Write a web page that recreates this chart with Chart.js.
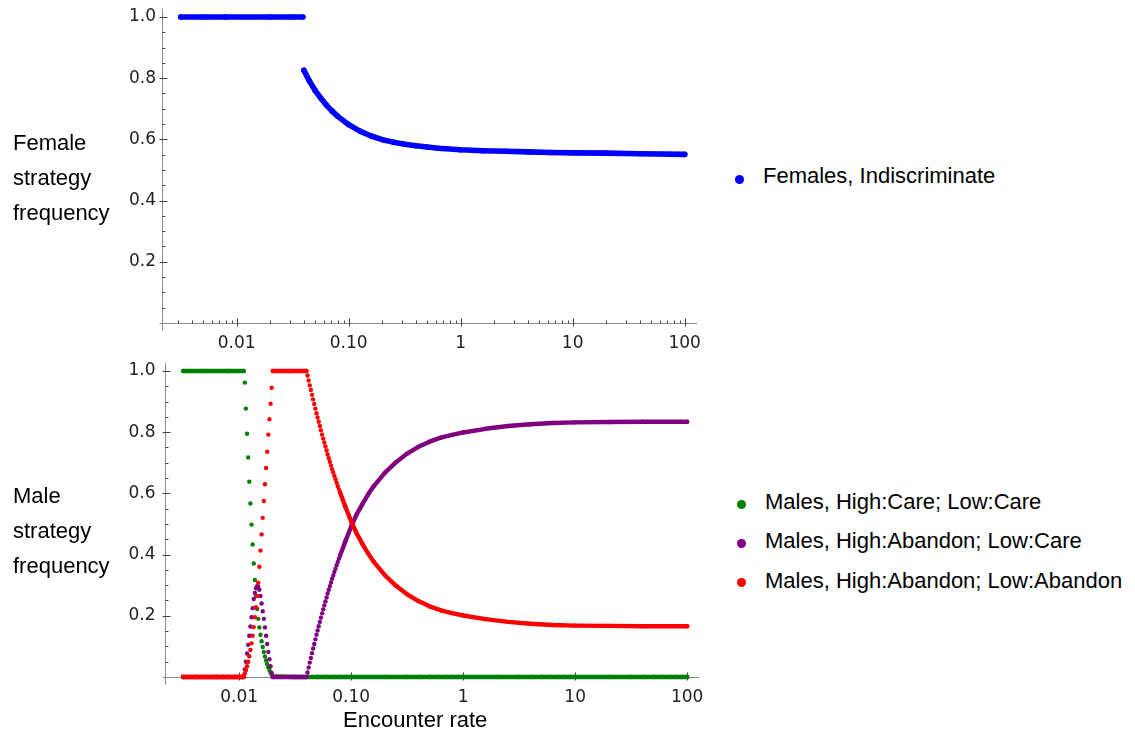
<!DOCTYPE html>
<html>
<head>
<meta charset="utf-8">
<script src="https://cdn.jsdelivr.net/npm/chart.js@4.4.1/dist/chart.umd.min.js"></script>
<style>
    body { margin: 0; background: #fff; }
    #page { position: relative; width: 1135px; height: 733px; overflow: hidden; font-family: 'Liberation Sans', Arial, sans-serif; font-size: 22px; color: #000; }
    canvas { position: absolute; left: 0; }
    .txt { position: absolute; white-space: nowrap; }
    .side { line-height: 35px; }
    .leg { line-height: 30px; }
    .dot { position: absolute; width: 9px; height: 9px; border-radius: 50%; }
</style>
</head>
<body>
<div id="page">
    <canvas id="female-chart" width="720" height="360" style="top:0"></canvas>
    <canvas id="male-chart" width="720" height="383" style="top:350px"></canvas>

    <div class="txt side" style="left:13px; top:125px">Female<br>strategy<br>frequency</div>
    <div class="txt side" style="left:13px; top:478px">Male<br>strategy<br>frequency</div>
    <div class="txt leg" style="left:343px; top:705px">Encounter rate</div>

    <div class="dot" style="left:735px; top:175px; background:#0000ff"></div>
    <div class="txt leg" style="left:763px; top:161px">Females, Indiscriminate</div>

    <div class="dot" style="left:737px; top:500px; background:#008000"></div>
    <div class="txt leg" style="left:765px; top:487px">Males, High:Care; Low:Care</div>
    <div class="dot" style="left:737px; top:539px; background:#800080"></div>
    <div class="txt leg" style="left:765px; top:526px">Males, High:Abandon; Low:Care</div>
    <div class="dot" style="left:737px; top:578px; background:#ff0000"></div>
    <div class="txt leg" style="left:765px; top:566px">Males, High:Abandon; Low:Abandon</div>
</div>

<script>
// encounter rates are stored as log10 exponents
const femaleLogRate = [-2.5, -2.3, -2.1, -1.9, -1.7, -1.5, -1.41,
    -1.40, -1.35, -1.30, -1.25, -1.20, -1.15, -1.10, -1.00, -0.90, -0.80, -0.70, -0.60, -0.50,
    -0.40, -0.30, -0.20, 0.00, 0.20, 0.40, 0.60, 0.80, 1.00, 1.30, 1.60, 2.00];
const femaleIndiscriminate = [1, 1, 1, 1, 1, 1, 1,
    0.826, 0.790, 0.760, 0.735, 0.712, 0.693, 0.676, 0.648, 0.627, 0.611, 0.599, 0.591, 0.584,
    0.579, 0.575, 0.571, 0.566, 0.563, 0.561, 0.559, 0.557, 0.556, 0.555, 0.553, 0.551];

const careCareLogRate = [-2.5, -2.3, -2.1, -1.96,
    -1.95, -1.94, -1.93, -1.92, -1.91, -1.90, -1.89, -1.88, -1.87, -1.86,
    -1.85, -1.84, -1.83, -1.82, -1.81, -1.80, -1.79, -1.78, -1.77, -1.76,
    -1.75, -1.74, -1.73, -1.72, -1.71, -1.70,
    -1.5, -1.0, -0.5, 0, 0.5, 1.0, 1.5, 2.0];
const careCare = [1, 1, 1, 1,
    0.962, 0.877, 0.795, 0.717, 0.638, 0.567, 0.498, 0.433, 0.371, 0.317,
    0.265, 0.222, 0.190, 0.162, 0.138, 0.117, 0.098, 0.082, 0.067, 0.054,
    0.042, 0.032, 0.023, 0.015, 0.008, 0.002,
    0, 0, 0, 0, 0, 0, 0, 0];

const abandonCareLogRate = [-2.5, -2.2, -1.96,
    -1.95, -1.94, -1.93, -1.92, -1.91, -1.90, -1.89, -1.88, -1.87, -1.86,
    -1.85, -1.84, -1.83, -1.82, -1.81, -1.80, -1.79, -1.78, -1.77, -1.76,
    -1.75, -1.74, -1.73, -1.72, -1.71, -1.70, -1.55, -1.40,
    -1.39, -1.38, -1.37, -1.36, -1.35, -1.34, -1.33, -1.32, -1.31, -1.30,
    -1.29, -1.28, -1.27, -1.26, -1.25, -1.24, -1.23, -1.22, -1.21, -1.20,
    -1.19, -1.18, -1.17, -1.16, -1.15, -1.14, -1.13, -1.12, -1.11, -1.10,
    -1.05, -1.00, -0.95, -0.90, -0.85, -0.80, -0.70, -0.60, -0.50, -0.40,
    -0.30, -0.20, -0.10, 0.00, 0.20, 0.40, 0.60, 0.80, 1.00, 1.30, 1.60, 2.00];
const abandonCare = [0, 0, 0,
    0.025, 0.050, 0.077, 0.105, 0.135, 0.165, 0.195, 0.225, 0.255, 0.275,
    0.290, 0.297, 0.295, 0.285, 0.265, 0.240, 0.215, 0.190, 0.162, 0.135,
    0.108, 0.082, 0.058, 0.035, 0.013, 0, 0, 0,
    0.015, 0.031, 0.047, 0.062, 0.078, 0.093, 0.108, 0.123, 0.138, 0.152,
    0.166, 0.180, 0.194, 0.208, 0.221, 0.234, 0.247, 0.260, 0.273, 0.285,
    0.297, 0.309, 0.321, 0.332, 0.343, 0.354, 0.365, 0.376, 0.386, 0.396,
    0.445, 0.492, 0.532, 0.565, 0.596, 0.623, 0.667, 0.702, 0.730, 0.752,
    0.769, 0.782, 0.791, 0.799, 0.811, 0.820, 0.826, 0.830, 0.832, 0.833, 0.834, 0.834];

const abandonAbandonLogRate = [-2.5, -2.2, -1.97,
    -1.96, -1.95, -1.94, -1.93, -1.92, -1.91, -1.90, -1.89, -1.88, -1.87,
    -1.86, -1.85, -1.84, -1.83, -1.82, -1.81, -1.80, -1.79, -1.78, -1.77,
    -1.76, -1.75, -1.74, -1.73, -1.72, -1.71,
    -1.70, -1.55, -1.40,
    -1.39, -1.38, -1.37, -1.36, -1.35, -1.34, -1.33, -1.32, -1.31, -1.30,
    -1.29, -1.28, -1.27, -1.26, -1.25, -1.24, -1.23, -1.22, -1.21, -1.20,
    -1.19, -1.18, -1.17, -1.16, -1.15, -1.14, -1.13, -1.12, -1.11, -1.10,
    -1.05, -1.00, -0.95, -0.90, -0.85, -0.80, -0.70, -0.60, -0.50, -0.40,
    -0.30, -0.20, -0.10, 0.00, 0.20, 0.40, 0.60, 0.80, 1.00, 1.30, 1.60, 2.00];
const abandonAbandon = [0, 0, 0,
    0.004, 0.012, 0.022, 0.035, 0.050, 0.068, 0.088, 0.110, 0.135, 0.163,
    0.195, 0.228, 0.265, 0.308, 0.360, 0.413, 0.466, 0.520, 0.575, 0.630,
    0.683, 0.736, 0.792, 0.842, 0.893, 0.945,
    1, 1, 1,
    0.985, 0.969, 0.953, 0.938, 0.922, 0.907, 0.892, 0.877, 0.862, 0.848,
    0.834, 0.820, 0.806, 0.792, 0.779, 0.766, 0.753, 0.740, 0.727, 0.715,
    0.703, 0.691, 0.679, 0.668, 0.657, 0.646, 0.635, 0.624, 0.614, 0.604,
    0.555, 0.508, 0.468, 0.435, 0.404, 0.377, 0.333, 0.298, 0.270, 0.248,
    0.231, 0.218, 0.209, 0.201, 0.189, 0.180, 0.174, 0.170, 0.168, 0.167, 0.166, 0.166];

const xTickValues = [0.01, 0.1, 1, 10, 100];
const xTickLabels = ['0.01', '0.10', '1', '10', '100'];
const minorMultipliers = [2, 3, 4, 5, 6, 7, 8, 9];
const yTickValues = [0.2, 0.4, 0.6, 0.8, 1.0];
const yTickLabels = ['0.2', '0.4', '0.6', '0.8', '1.0'];
const yMinorStep = 0.05;

const X_MIN = Math.pow(10, -2.667);
const X_MAX = Math.pow(10, 2.11);
const Y_MAX = 1.026;

function toPoints(logRates, values) {
    return logRates.map((e, i) => ({ x: Math.pow(10, e), y: values[i] }));
}

function xMinorTicks() {
    const out = [];
    for (let d = 0.001; d < 100; d *= 10) {
        minorMultipliers.forEach(m => {
            const v = +(m * d).toPrecision(3);
            if (v > X_MIN && v < X_MAX) out.push(v);
        });
    }
    return out;
}

// axes drawn the Mathematica way: crossing at the origin, ticks straddling the line
const frameAxes = {
    id: 'frameAxes',
    beforeDatasetsDraw(chart) {
        const { ctx, chartArea: a, scales: { x, y } } = chart;
        const y0 = Math.round(y.getPixelForValue(0)) + 0.5;
        const x0 = Math.round(a.left) + 0.5;
        ctx.save();
        ctx.lineWidth = 1;
        ctx.strokeStyle = '#8a8a8a';
        ctx.beginPath();
        ctx.moveTo(x0 - 3, y0);
        ctx.lineTo(a.right, y0);
        ctx.moveTo(x0, a.top);
        ctx.lineTo(x0, y0 + 7);
        ctx.stroke();

        ctx.strokeStyle = '#444';
        ctx.beginPath();
        xTickValues.forEach(v => {
            const px = Math.round(x.getPixelForValue(v)) + 0.5;
            ctx.moveTo(px, y0 - 5);
            ctx.lineTo(px, y0 + 3);
        });
        xMinorTicks().forEach(v => {
            const px = Math.round(x.getPixelForValue(v)) + 0.5;
            ctx.moveTo(px, y0 - 3);
            ctx.lineTo(px, y0);
        });
        yTickValues.forEach(v => {
            const py = Math.round(y.getPixelForValue(v)) + 0.5;
            ctx.moveTo(x0 - 3, py);
            ctx.lineTo(x0 + 5, py);
        });
        for (let i = 1; i * yMinorStep < Y_MAX; i++) {
            if (i % 4 === 0) continue;
            const py = Math.round(y.getPixelForValue(i * yMinorStep)) + 0.5;
            ctx.moveTo(x0, py);
            ctx.lineTo(x0 + 3, py);
        }
        ctx.stroke();
        ctx.restore();
    }
};

function pointSeries(label, logRates, values, color, radius, order) {
    return {
        label: label,
        data: toPoints(logRates, values),
        showLine: true,
        order: order,
        clip: false,
        borderColor: color,
        borderWidth: radius * 2,
        borderCapStyle: 'round',
        borderJoinStyle: 'round',
        pointRadius: radius,
        pointBorderWidth: 0,
        pointBackgroundColor: color,
        pointHoverRadius: radius,
        tension: 0,
        // neighbouring samples stay as separate dots, wider steps are joined
        segment: {
            borderColor: c => (c.p1.x - c.p0.x > 1.6 ? color : 'rgba(0,0,0,0)'),
        },
    };
}

function panelOptions(pad, labelPad) {
    const tickFont = { family: 'DejaVu Sans', size: 17 };
    return {
        responsive: false,
        animation: false,
        events: [],
        layout: { padding: pad },
        plugins: { legend: { display: false }, tooltip: { enabled: false } },
        scales: {
            x: {
                type: 'logarithmic',
                min: X_MIN,
                max: X_MAX,
                grid: { display: false, drawTicks: false },
                border: { display: false },
                afterBuildTicks: s => { s.ticks = xTickValues.map(v => ({ value: v })); },
                afterFit: s => { s.height = 30; },
                ticks: {
                    autoSkip: false,
                    maxRotation: 0,
                    padding: 10,
                    color: '#222',
                    font: tickFont,
                    callback: (v, i) => xTickLabels[i],
                },
            },
            y: {
                min: 0,
                max: Y_MAX,
                grid: { display: false, drawTicks: false },
                border: { display: false },
                afterBuildTicks: s => { s.ticks = yTickValues.map(v => ({ value: v })); },
                afterFit: s => { s.width = 50; },
                ticks: {
                    padding: labelPad,
                    color: '#222',
                    // small line height keeps the top label from pushing the plot area down
                    font: { family: 'DejaVu Sans', size: 17, lineHeight: 0.1 },
                    callback: (v, i) => yTickLabels[i],
                },
            },
        },
    };
}

new Chart(document.getElementById('female-chart'), {
    type: 'scatter',
    data: {
        datasets: [
            pointSeries('Females, Indiscriminate', femaleLogRate, femaleIndiscriminate, '#0000ff', 2.8, 0),
        ],
    },
    options: panelOptions({ left: 112, right: 23, top: 9, bottom: 7 }, 6),
    plugins: [frameAxes],
});

new Chart(document.getElementById('male-chart'), {
    type: 'scatter',
    data: {
        datasets: [
            pointSeries('Males, High:Care; Low:Care', careCareLogRate, careCare, '#008000', 2.2, 2),
            pointSeries('Males, High:Abandon; Low:Care', abandonCareLogRate, abandonCare, '#800080', 2.2, 1),
            pointSeries('Males, High:Abandon; Low:Abandon', abandonAbandonLogRate, abandonAbandon, '#ff0000', 2.2, 0),
        ],
    },
    options: panelOptions({ left: 114.5, right: 20.5, top: 13, bottom: 26 }, 9),
    plugins: [frameAxes],
});
</script>
</body>
</html>
